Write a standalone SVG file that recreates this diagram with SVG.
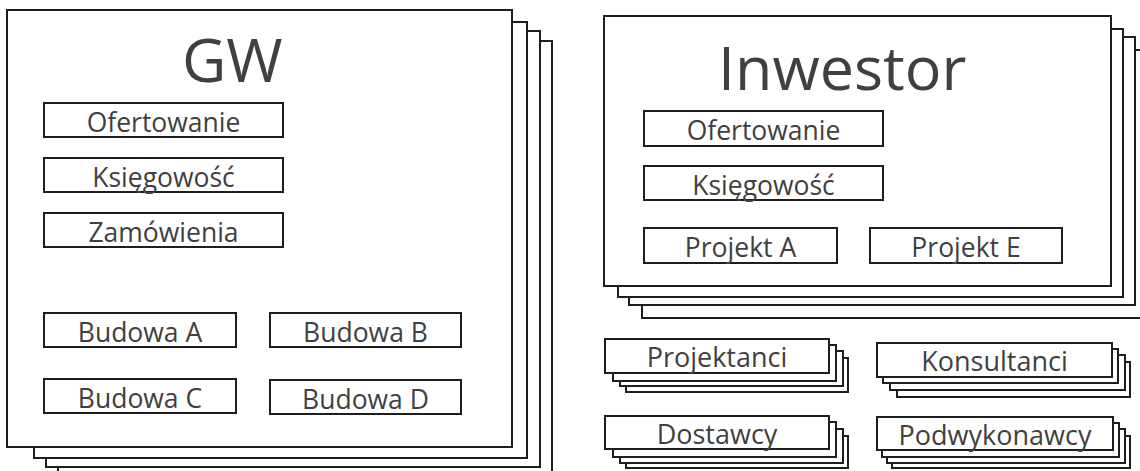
<svg xmlns="http://www.w3.org/2000/svg" width="1140" height="471" viewBox="0 0 1140 471">
<style>
.sh{fill:#fff;stroke:#1e1e1e;stroke-width:2}
.bx{fill:#fff;stroke:#1e1e1e;stroke-width:2}
.t{font-family:"Open Sans","Noto Sans","Liberation Sans",sans-serif;fill:#404040;text-anchor:middle}
.lb{font-size:26.5px}
.sl{font-size:27px}
.ti{font-size:61px;text-anchor:start}
</style>
<rect width="1140" height="471" fill="#fff"/>
<g id="gw">
<rect class="sh" x="58" y="41" width="494" height="440"/>
<rect class="sh" x="46" y="31" width="494" height="436"/>
<rect class="sh" x="34" y="22" width="493" height="436"/>
<rect class="sh" x="7" y="10" width="505" height="437"/>
<text class="t ti" x="182" y="82">GW</text>
</g>
<g id="gw-ofertowanie"><rect class="bx" x="44" y="103" width="239" height="34"/><text class="t lb" x="163.5" y="131.5">Ofertowanie</text></g>
<g id="gw-ksiegowosc"><rect class="bx" x="44" y="158" width="239" height="34"/><text class="t lb" x="163.5" y="186.5">Księgowość</text></g>
<g id="gw-zamowienia"><rect class="bx" x="44" y="213" width="239" height="34"/><text class="t lb" x="163.5" y="241.5">Zamówienia</text></g>
<g id="gw-budowa-a"><rect class="bx" x="44" y="313" width="192" height="34"/><text class="t lb" x="140" y="341.5">Budowa A</text></g>
<g id="gw-budowa-b"><rect class="bx" x="270" y="313" width="191" height="34"/><text class="t lb" x="365.5" y="341.5">Budowa B</text></g>
<g id="gw-budowa-c"><rect class="bx" x="44" y="379" width="192" height="34"/><text class="t lb" x="140" y="407.5">Budowa C</text></g>
<g id="gw-budowa-d"><rect class="bx" x="270" y="380" width="191" height="34"/><text class="t lb" x="365.5" y="408.5">Budowa D</text></g>
<g id="inwestor">
<rect class="sh" x="642" y="50" width="510" height="268"/>
<rect class="sh" x="629" y="37" width="506" height="268"/>
<rect class="sh" x="618" y="29" width="505" height="268"/>
<rect class="sh" x="604" y="16" width="507" height="270"/>
<text class="t ti" x="718" y="90">Inwestor</text>
</g>
<g id="inw-ofertowanie"><rect class="bx" x="644" y="111" width="239" height="35"/><text class="t lb" x="763.5" y="139.5">Ofertowanie</text></g>
<g id="inw-ksiegowosc"><rect class="bx" x="644" y="166" width="239" height="34"/><text class="t lb" x="763.5" y="194.5">Księgowość</text></g>
<g id="inw-projekt-a"><rect class="bx" x="644" y="228" width="193" height="35"/><text class="t lb" x="740.5" y="256.5">Projekt A</text></g>
<g id="inw-projekt-e"><rect class="bx" x="870" y="228" width="192" height="35"/><text class="t lb" x="966" y="256.5">Projekt E</text></g>
<g id="projektanci">
<rect class="sh" x="626" y="358" width="222" height="34"/>
<rect class="sh" x="620" y="351" width="223" height="35"/>
<rect class="sh" x="613" y="345" width="223" height="36"/>
<rect class="sh" x="605" y="339" width="224" height="34"/>
<text class="t sl" x="717" y="367">Projektanci</text>
</g>
<g id="dostawcy">
<rect class="sh" x="626" y="436" width="222" height="32"/>
<rect class="sh" x="620" y="429" width="223" height="34"/>
<rect class="sh" x="613" y="422" width="223" height="35"/>
<rect class="sh" x="605" y="416" width="224" height="33"/>
<text class="t sl" x="717" y="444">Dostawcy</text>
</g>
<g id="konsultanci">
<rect class="sh" x="897" y="362" width="233" height="35"/>
<rect class="sh" x="890" y="355" width="235" height="35"/>
<rect class="sh" x="883" y="349" width="235" height="34"/>
<rect class="sh" x="877" y="343" width="235" height="34"/>
<text class="t sl" x="994.5" y="371">Konsultanci</text>
</g>
<g id="podwykonawcy">
<rect class="sh" x="892" y="436" width="238" height="32"/>
<rect class="sh" x="887" y="429" width="238" height="34"/>
<rect class="sh" x="882" y="423" width="237" height="34"/>
<rect class="sh" x="877" y="417" width="236" height="33"/>
<text class="t sl" x="995" y="445">Podwykonawcy</text>
</g>
<g id="connectors"/>
</svg>
